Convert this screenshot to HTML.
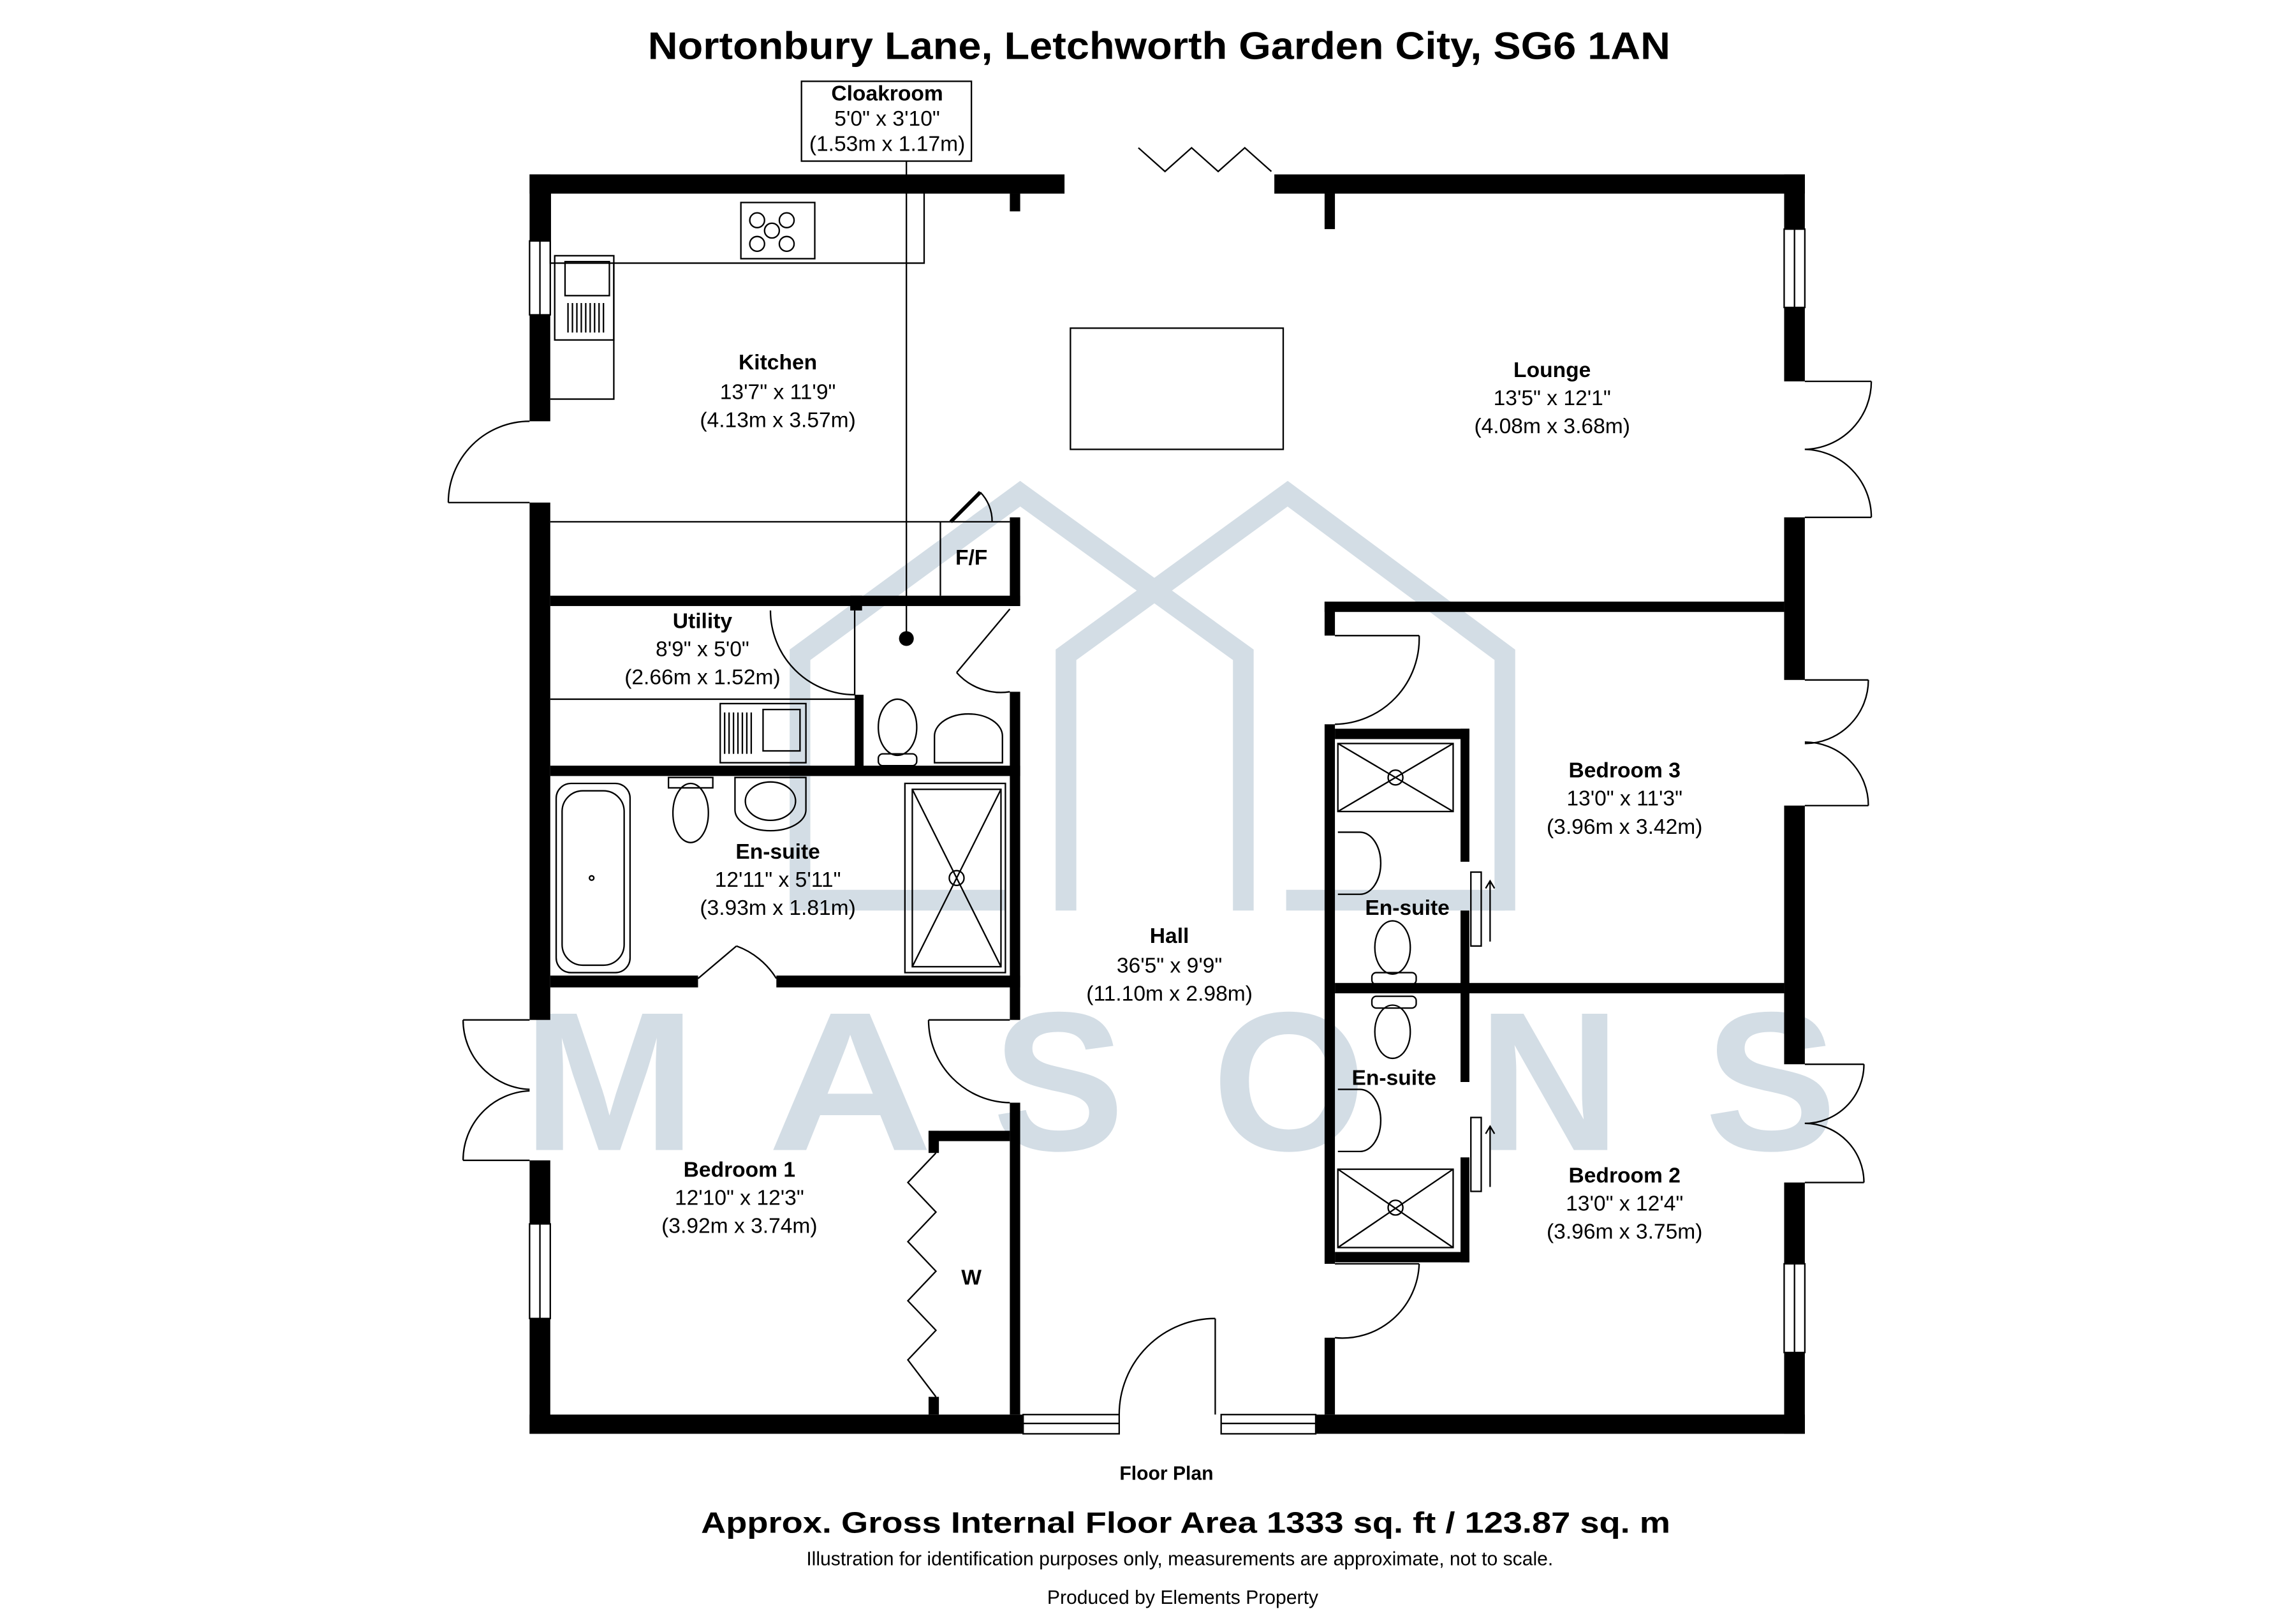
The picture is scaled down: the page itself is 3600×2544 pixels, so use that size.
<!DOCTYPE html>
<html><head><meta charset="utf-8"><style>
html,body{margin:0;padding:0;background:#fff;}
svg{display:block;}
text{font-family:"Liberation Sans",Arial,sans-serif;}
.l{font-size:14.5px;text-anchor:middle;fill:#000;}
.b{font-weight:bold;}
.t{fill:none;stroke:#000;stroke-width:1;}
.w{fill:#000;}
.wm{fill:none;stroke:#d3dde5;stroke-width:14;}
.wl{fill:#d3dde5;font-size:134px;text-anchor:middle;font-weight:bold;}
</style></head><body>
<svg width="3600" height="2544" viewBox="0 0 1553 1098" xmlns="http://www.w3.org/2000/svg">
<rect width="1553" height="1098" fill="#fff"/>
<!-- watermark -->
<polyline class="wm" points="541,616 541,443 690,334 841,443 841,616"/>
<polyline class="wm" points="721,616 721,443 871,334 1018,443 1018,616"/>
<line class="wm" x1="541" y1="609" x2="680" y2="609"/>
<line class="wm" x1="870" y1="609" x2="1018" y2="609"/>
<text class="wl" x="412" y="778" textLength="118" lengthAdjust="spacingAndGlyphs">M</text>
<text class="wl" x="575" y="778" textLength="112" lengthAdjust="spacingAndGlyphs">A</text>
<text class="wl" x="716" y="778">S</text>
<text class="wl" x="872" y="778">O</text>
<text class="wl" x="1048" y="778">N</text>
<text class="wl" x="1198" y="778">S</text>

<!-- title -->
<text x="784" y="40" class="b" style="font-size:26px;text-anchor:middle" textLength="692" lengthAdjust="spacingAndGlyphs">Nortonbury Lane, Letchworth Garden City, SG6 1AN</text>

<!-- cloakroom label -->
<rect x="542" y="55" width="115" height="54" class="t"/>
<text class="l b" x="600" y="68">Cloakroom</text>
<text class="l" x="600" y="85">5'0" x 3'10"</text>
<text class="l" x="600" y="102">(1.53m x 1.17m)</text>
<line class="t" x1="613" y1="109" x2="613" y2="432"/>
<circle cx="613" cy="432" r="5" fill="#000"/>

<!-- kitchen fittings -->
<polyline class="t" points="372,131 372,178 625,178 625,131"/>
<polyline class="t" points="415,178 415,270 372,270"/>
<rect x="501" y="137" width="50" height="38" class="t"/>
<circle cx="512" cy="149" r="5" class="t"/><circle cx="532" cy="149" r="5" class="t"/>
<circle cx="522" cy="156" r="5" class="t"/><circle cx="512" cy="165" r="5" class="t"/><circle cx="532" cy="165" r="5" class="t"/>
<rect x="375" y="173" width="40" height="57" class="t"/>
<rect x="382" y="177" width="30" height="23" class="t"/>
<path class="t" d="M384,205 v20 M387,205 v20 M390,205 v20 M393,205 v20 M396,205 v20 M399,205 v20 M402,205 v20 M405,205 v20 M408,205 v20"/>
<rect x="724" y="222" width="144" height="82" class="t"/>
<!-- F/F -->
<line class="t" x1="372" y1="353" x2="683" y2="353"/>
<line class="t" x1="636" y1="353" x2="636" y2="403"/>
<line x1="643" y1="353" x2="663" y2="333" stroke="#000" stroke-width="2.5"/>
<path class="t" d="M663,333 A28,28 0 0 1 671,353"/>

<!-- walls -->
<g class="w">
<rect x="358" y="118" width="362" height="13"/>
<rect x="862" y="118" width="359" height="13"/>
<rect x="683" y="131" width="7" height="12"/>
<rect x="896" y="131" width="7" height="24"/>
<rect x="358" y="118" width="14" height="45"/>
<rect x="358" y="213" width="14" height="72"/>
<rect x="358" y="340" width="14" height="350"/>
<rect x="358" y="785" width="14" height="43"/>
<rect x="358" y="892" width="14" height="78"/>
<rect x="358" y="957" width="334" height="13"/>
<rect x="890" y="957" width="331" height="13"/>
<rect x="1207" y="118" width="14" height="37"/>
<rect x="1207" y="208" width="14" height="50"/>
<rect x="1207" y="350" width="14" height="110"/>
<rect x="1207" y="545" width="14" height="175"/>
<rect x="1207" y="800" width="14" height="55"/>
<rect x="1207" y="915" width="14" height="55"/>
<!-- interior left -->
<rect x="683" y="350" width="7" height="60"/>
<rect x="372" y="403" width="318" height="7"/>
<rect x="575" y="403" width="8" height="10"/>
<rect x="578" y="470" width="6" height="52"/>
<rect x="372" y="518" width="318" height="7"/>
<rect x="683" y="468" width="7" height="222"/>
<rect x="683" y="746" width="7" height="211"/>
<rect x="372" y="660" width="100" height="8"/>
<rect x="525" y="660" width="165" height="8"/>
<rect x="628" y="765" width="55" height="7"/>
<rect x="628" y="765" width="7" height="15"/>
<rect x="628" y="945" width="7" height="12"/>
<!-- interior right -->
<rect x="896" y="407" width="311" height="7"/>
<rect x="896" y="407" width="7" height="23"/>
<rect x="896" y="490" width="7" height="365"/>
<rect x="896" y="905" width="7" height="52"/>
<rect x="903" y="493" width="91" height="7"/>
<rect x="988" y="493" width="6" height="90"/>
<rect x="988" y="616" width="6" height="116"/>
<rect x="988" y="783" width="6" height="71"/>
<rect x="903" y="847" width="91" height="7"/>
<rect x="903" y="665" width="304" height="7"/>
</g>

<!-- windows -->
<g class="t">
<rect x="358" y="163" width="14" height="50"/><line x1="365" y1="163" x2="365" y2="213"/>
<rect x="358" y="828" width="14" height="64"/><line x1="365" y1="828" x2="365" y2="892"/>
<rect x="692" y="957" width="65" height="13"/><line x1="692" y1="963" x2="757" y2="963"/>
<rect x="826" y="957" width="64" height="13"/><line x1="826" y1="963" x2="890" y2="963"/>
<rect x="1207" y="155" width="14" height="53"/><line x1="1214" y1="155" x2="1214" y2="208"/>
<rect x="1207" y="855" width="14" height="60"/><line x1="1214" y1="855" x2="1214" y2="915"/>
</g>

<!-- doors -->
<g class="t">
<polyline points="770,100 788,116 806,100 824,116 842,100 860,116"/>
<line x1="358" y1="340" x2="303" y2="340"/><path d="M303,340 A55,55 0 0 1 358,285"/>
<line x1="358" y1="690" x2="313" y2="690"/><path d="M313,690 A47,47 0 0 0 358,737"/>
<line x1="358" y1="785" x2="313" y2="785"/><path d="M313,785 A47,47 0 0 1 358,738"/>
<line x1="1221" y1="258" x2="1266" y2="258"/><path d="M1266,258 A46,46 0 0 1 1221,304"/>
<line x1="1221" y1="350" x2="1266" y2="350"/><path d="M1266,350 A46,46 0 0 0 1221,304"/>
<line x1="1221" y1="460" x2="1264" y2="460"/><path d="M1264,460 A43,43 0 0 1 1221,503"/>
<line x1="1221" y1="545" x2="1264" y2="545"/><path d="M1264,545 A43,43 0 0 0 1221,502"/>
<line x1="1221" y1="720" x2="1261" y2="720"/><path d="M1261,720 A40,40 0 0 1 1221,760"/>
<line x1="1221" y1="800" x2="1261" y2="800"/><path d="M1261,800 A40,40 0 0 0 1221,760"/>
<line x1="822" y1="957" x2="822" y2="892"/><path d="M822,892 A65,65 0 0 0 757,957"/>
<line x1="578" y1="470" x2="578" y2="413"/><path d="M521,413 A57,57 0 0 0 578,470"/>
<line x1="683" y1="412" x2="647" y2="455"/><path d="M647,455 A40,40 0 0 0 683,468"/>
<line x1="472" y1="662" x2="498" y2="640"/><path d="M498,640 A53,53 0 0 1 525,662"/>
<line x1="683" y1="690" x2="628" y2="690"/><path d="M628,690 A56,56 0 0 0 683,746"/>
<line x1="903" y1="430" x2="960" y2="430"/><path d="M960,430 A58,58 0 0 1 903,490"/>
<line x1="903" y1="855" x2="960" y2="855"/><path d="M960,855 A52,52 0 0 1 903,905"/>
<polyline points="633,780 614,800 633,820 614,840 633,860 614,880 633,900 614,920 633,945"/>
</g>

<!-- utility fittings -->
<line class="t" x1="372" y1="473" x2="578" y2="473"/>
<rect x="487" y="476" width="58" height="40" class="t"/>
<rect x="516" y="480" width="25" height="28" class="t"/>
<path class="t" d="M490,482 v28 M493,482 v28 M496,482 v28 M499,482 v28 M502,482 v28 M505,482 v28 M508,482 v28"/>
<ellipse cx="607" cy="492" rx="13" ry="19" class="t"/>
<rect x="594" y="510" width="26" height="8" rx="3" class="t"/>
<path class="t" d="M632,516 V498 A23,15 0 0 1 678,498 V516 Z"/>
<!-- ensuite 1 -->
<rect x="376" y="530" width="50" height="128" rx="10" class="t"/>
<rect x="380" y="535" width="42" height="118" rx="14" class="t"/>
<circle cx="400" cy="594" r="1.5" class="t"/>
<rect x="452" y="526" width="30" height="7" class="t"/>
<ellipse cx="467" cy="550" rx="12" ry="20" class="t"/>
<path class="t" d="M497,526 V548 A24,14 0 0 0 545,548 V526 Z"/>
<ellipse cx="521" cy="542" rx="17" ry="13" class="t"/>
<rect x="612" y="530" width="68" height="128" class="t"/>
<rect x="617" y="534" width="60" height="120" class="t"/>
<path class="t" d="M617,534 L677,654 M677,534 L617,654"/>
<circle cx="647" cy="594" r="5" class="t"/>
<!-- ensuite 3 -->
<rect x="905" y="503" width="78" height="46" class="t"/>
<path class="t" d="M905,503 L983,549 M983,503 L905,549"/>
<circle cx="944" cy="526" r="5" class="t"/>
<path class="t" d="M905,563 H920 A14,21 0 0 1 920,605 H905"/>
<ellipse cx="942" cy="641" rx="12" ry="18" class="t"/>
<rect x="928" y="658" width="30" height="8" rx="3" class="t"/>
<rect x="995" y="590" width="7" height="50" class="t"/>
<path class="t" d="M1008,637 V597 M1005,601 L1008,596 L1011,601"/>
<!-- ensuite 2 -->
<rect x="928" y="674" width="30" height="8" rx="3" class="t"/>
<ellipse cx="942" cy="698" rx="12" ry="18" class="t"/>
<path class="t" d="M905,737 H920 A14,21 0 0 1 920,779 H905"/>
<rect x="995" y="756" width="7" height="50" class="t"/>
<path class="t" d="M1008,803 V763 M1005,767 L1008,762 L1011,767"/>
<rect x="905" y="791" width="78" height="53" class="t"/>
<path class="t" d="M905,791 L983,844 M983,791 L905,844"/>
<circle cx="944" cy="817" r="5" class="t"/>

<!-- labels -->
<text class="l b" x="526" y="250">Kitchen</text>
<text class="l" x="526" y="270">13'7" x 11'9"</text>
<text class="l" x="526" y="289">(4.13m x 3.57m)</text>
<text class="l b" x="1050" y="255">Lounge</text>
<text class="l" x="1050" y="274">13'5" x 12'1"</text>
<text class="l" x="1050" y="293">(4.08m x 3.68m)</text>
<text class="l b" x="657" y="382">F/F</text>
<text class="l b" x="475" y="425">Utility</text>
<text class="l" x="475" y="444">8'9" x 5'0"</text>
<text class="l" x="475" y="463">(2.66m x 1.52m)</text>
<text class="l b" x="526" y="581">En-suite</text>
<text class="l" x="526" y="600">12'11" x 5'11"</text>
<text class="l" x="526" y="619">(3.93m x 1.81m)</text>
<text class="l b" x="1099" y="526">Bedroom 3</text>
<text class="l" x="1099" y="545">13'0" x 11'3"</text>
<text class="l" x="1099" y="564">(3.96m x 3.42m)</text>
<text class="l b" x="952" y="619">En-suite</text>
<text class="l b" x="791" y="638">Hall</text>
<text class="l" x="791" y="658">36'5" x 9'9"</text>
<text class="l" x="791" y="677">(11.10m x 2.98m)</text>
<text class="l b" x="943" y="734">En-suite</text>
<text class="l b" x="500" y="796">Bedroom 1</text>
<text class="l" x="500" y="815">12'10" x 12'3"</text>
<text class="l" x="500" y="834">(3.92m x 3.74m)</text>
<text class="l b" x="1099" y="800">Bedroom 2</text>
<text class="l" x="1099" y="819">13'0" x 12'4"</text>
<text class="l" x="1099" y="838">(3.96m x 3.75m)</text>
<text class="l b" x="657" y="869">W</text>

<text class="l b" x="789" y="1001" style="font-size:13px">Floor Plan</text>
<text class="l b" x="802" y="1037" style="font-size:20px" textLength="656" lengthAdjust="spacingAndGlyphs">Approx. Gross Internal Floor Area 1333 sq. ft / 123.87 sq. m</text>
<text class="l" x="798" y="1059" style="font-size:13px">Illustration for identification purposes only, measurements are approximate, not to scale.</text>
<text class="l" x="800" y="1085" style="font-size:13px">Produced by Elements Property</text>
</svg>
</body></html>
